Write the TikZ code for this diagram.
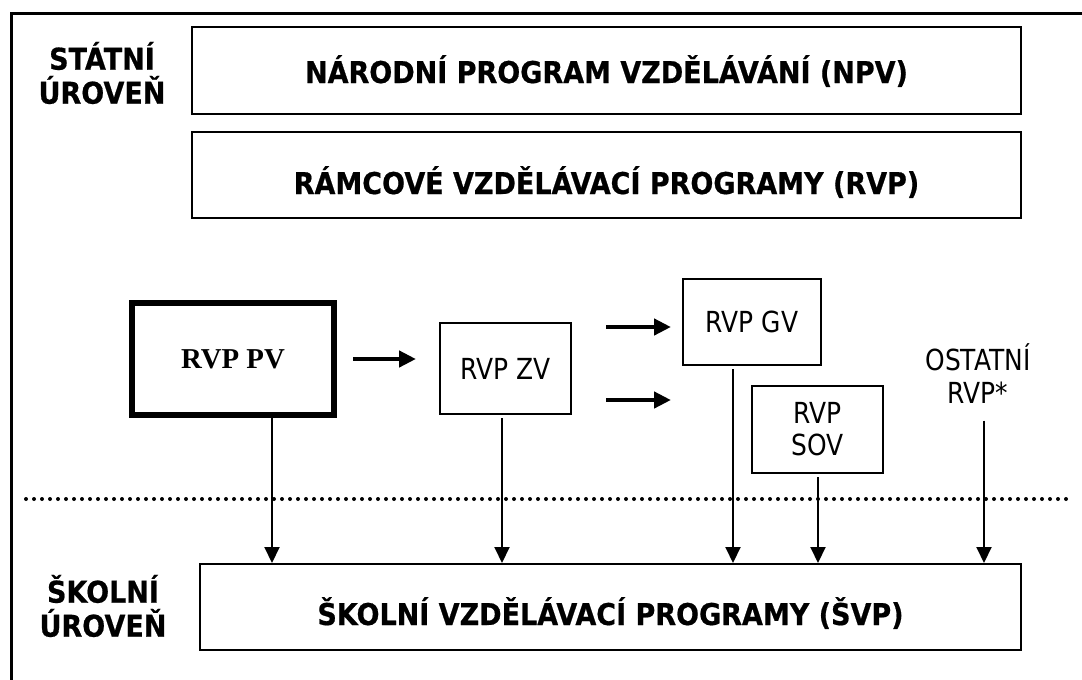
\documentclass[tikz,border=0pt]{standalone}
\usepackage{fontspec}
\setmainfont{DejaVu Sans}
\newfontfamily\regf[FakeStretch=0.86]{DejaVu Sans}
\newfontfamily\bldf[FakeStretch=0.9,FakeBold=0.6]{DejaVu Sans Bold}
\newfontfamily\tms{Liberation Serif}
\usetikzlibrary{arrows.meta}
\begin{document}
\begin{tikzpicture}[x=1pt,y=-1pt,
  box/.style={draw, line width=2pt, inner sep=0pt},
  boldtxt/.style={font=\bldf\fontsize{30}{34}\selectfont},
  regtxt/.style={font=\regf\fontsize{29}{32}\selectfont},
  conn/.style={line width=2pt, -{Triangle[length=16pt,width=15pt]}},
  harrow/.style={line width=4.5pt, -{Triangle[length=17pt,width=16pt]}},
  dotline/.style={line width=4pt, line cap=round, dash pattern=on 0pt off 8pt},
  frame/.style={line width=3pt}
]
\useasboundingbox (0,0) rectangle (1082,680);
\fill[white] (0,0) rectangle (1082,680);
\draw[frame] (1082,13) -- (11,13) -- (11,680);

% level labels
\node[boldtxt, align=center] (st) at (102,73) {STÁTNÍ\\ÚROVEŇ};
\node[boldtxt, align=center] (sk) at (103,606) {ŠKOLNÍ\\ÚROVEŇ};

% state level boxes
\node[box, boldtxt, minimum width=829pt, minimum height=87pt, text height=25pt, text depth=0pt] (npv) at (606.5,70.5) {NÁRODNÍ PROGRAM VZDĚLÁVÁNÍ (NPV)};
\node[box, boldtxt, minimum width=829pt, minimum height=86pt, text height=38pt, text depth=0pt] (rvp) at (606.5,175) {RÁMCOVÉ VZDĚLÁVACÍ PROGRAMY (RVP)};

% RVP boxes
\node[draw, line width=6pt, inner sep=0pt, minimum width=202pt, minimum height=112pt, font=\tms\bfseries\fontsize{28.8}{30}\selectfont] (pv) at (233,359) {RVP PV};
\node[box, regtxt, minimum width=131pt, minimum height=91pt] (zv) at (505.5,368.5) {RVP ZV};
\node[box, regtxt, minimum width=138pt, minimum height=86pt] (gv) at (752,322) {RVP GV};
\node[box, regtxt, align=center, minimum width=131pt, minimum height=87pt] (sov) at (817.5,429.5) {RVP\\SOV};
\node[regtxt, align=center, inner sep=0pt, font=\regf\fontsize{29}{33}\selectfont] (ost) at (978,373.5) {OSTATNÍ\\RVP*};

% school level box
\node[box, boldtxt, minimum width=821pt, minimum height=86pt, text height=36pt, text depth=0pt] (svp) at (610.5,607) {ŠKOLNÍ VZDĚLÁVACÍ PROGRAMY (ŠVP)};

% dotted boundary
\draw[dotline] (26,499) -- (1068,499);

% horizontal arrows
\draw[harrow] ([xshift=16pt]pv.east) -- ([xshift=-23pt]zv.west |- pv.east);
\draw[harrow] ([shift={(34pt,41.5pt)}]zv.east) -- ++(65,0);
\draw[harrow] ([shift={(34pt,-31.5pt)}]zv.east) -- ++(65,0);

% vertical connectors to SVP
\draw[conn] ([xshift=39pt]pv.south) -- ([xshift=39pt]pv.south |- svp.north);
\draw[conn] ([shift={(-3.5pt,-3pt)}]zv.south) -- ([xshift=-3.5pt]zv.south |- svp.north);
\draw[conn] ([shift={(-19pt,-3pt)}]gv.south) -- ([xshift=-19pt]gv.south |- svp.north);
\draw[conn] ([shift={(0.5pt,-3pt)}]sov.south) -- ([xshift=0.5pt]sov.south |- svp.north);
\draw[conn] ([shift={(6pt,-17pt)}]ost.south) -- ([xshift=6pt]ost.south |- svp.north);
\end{tikzpicture}
\end{document}
